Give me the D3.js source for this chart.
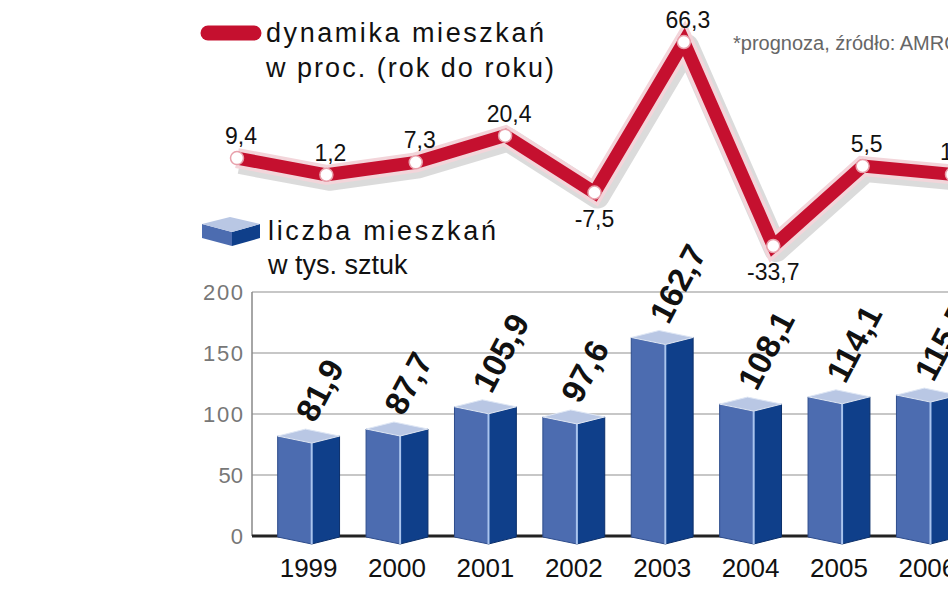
<!DOCTYPE html>
<html><head><meta charset="utf-8">
<script src="https://cdn.jsdelivr.net/npm/d3@7"></script>
<style>body{margin:0;background:#fff}svg{display:block}</style>
</head><body>
<svg id="c" width="948" height="593"></svg>
<script>
const years = ["1999","2000","2001","2002","2003","2004","2005","2006"];
const flats = [81.9, 87.7, 105.9, 97.6, 162.7, 108.1, 114.1, 115.5];
const flatLabels = ["81,9","87,7","105,9","97,6","162,7","108,1","114,1","115,5"];
const dynamics = [9.4, 1.2, 7.3, 20.4, -7.5, 66.3, -33.7, 5.5, 1.4];
const dynLabels = ["9,4","1,2","7,3","20,4","-7,5","66,3","-33,7","5,5","1,4"];
const yTicks = [0, 50, 100, 150, 200];

const svg = d3.select("#c");
const font = "'Liberation Sans','Open Sans',sans-serif";

// bar scales
const x = d3.scaleBand().domain(years).range([260, 976]).paddingInner(0.3).paddingOuter(0.2);
const y = d3.scaleLinear().domain([0, 200]).range([536, 292]);

const grid = svg.append("g");
yTicks.forEach(t => {
  if (t > 0) grid.append("line").attr("x1", 252).attr("x2", 948).attr("y1", y(t)).attr("y2", y(t))
    .attr("stroke", "#b5b5b5").attr("stroke-width", 1.5);
  grid.append("text").attr("x", 243).attr("y", y(t) + 8).attr("text-anchor", "end")
    .attr("font-family", font).attr("font-size", 22).attr("fill", "#777").attr("textLength", t >= 100 ? 40 : null).text(t);
});
grid.append("line").attr("x1", 252).attr("x2", 252).attr("y1", y(200)).attr("y2", y(0)).attr("stroke", "#888").attr("stroke-width", 1.5);
grid.append("line").attr("x1", 252).attr("x2", 948).attr("y1", y(0)).attr("y2", y(0)).attr("stroke", "#222").attr("stroke-width", 3);

const bars = svg.append("g");
years.forEach((yr, i) => {
  const x0 = x(yr), w = x.bandwidth(), xm = x0 + w * 0.55, x1 = x0 + w;
  const top = y(flats[i]), d = 7, bot = y(0) + 8;
  bars.append("path").attr("d", `M${x0},${top}L${xm},${top + d}L${xm},${bot}L${x0},${bot - d}Z`)
    .attr("fill", "#4c6cb0").attr("stroke", "#2d4c8c").attr("stroke-width", 1);
  bars.append("path").attr("d", `M${xm},${top + d}L${x1},${top}L${x1},${bot - d}L${xm},${bot}Z`)
    .attr("fill", "#0f3f8a").attr("stroke", "#0b2f6a").attr("stroke-width", 1);
  bars.append("line").attr("x1", xm).attr("x2", xm).attr("y1", top + d).attr("y2", bot).attr("stroke", "#a9c4ee").attr("stroke-width", 2);
  bars.append("path").attr("d", `M${x0},${top}L${xm},${top + d}L${x1},${top}L${x0 + w * 0.45},${top - d}Z`)
    .attr("fill", "#b9c7e4").attr("stroke", "#dfe7f5").attr("stroke-width", 1);
  bars.append("text").attr("transform", `translate(${x0 + w * 0.6},${top - 12}) rotate(-62)`)
    .attr("font-family", font).attr("font-weight", "bold").attr("font-size", 33).attr("fill", "#111")
    .text(flatLabels[i]);
  bars.append("text").attr("x", x0 + w / 2).attr("y", 577).attr("text-anchor", "middle")
    .attr("font-family", font).attr("font-size", 26).attr("fill", "#111").text(yr);
});

// line
const lx = d3.scaleLinear().domain([0, 8]).range([237, 952]);
const ly = d3.scaleLinear().domain([-33.7, 66.3]).range([246, 42]);
const gen = d3.line().x((d, i) => lx(i)).y(d => ly(d));
const lg = svg.append("g");
lg.append("path").attr("d", gen(dynamics)).attr("fill", "none").attr("stroke", "#999").attr("stroke-width", 24)
  .attr("stroke-linejoin", "round").attr("opacity", 0.35).attr("transform", "translate(3,4)");
lg.append("path").attr("d", gen(dynamics)).attr("fill", "none").attr("stroke", "#f3d5da").attr("stroke-width", 20).attr("stroke-linejoin", "miter");
lg.append("path").attr("d", gen(dynamics)).attr("fill", "none").attr("stroke", "#c5102f").attr("stroke-width", 13).attr("stroke-linejoin", "miter");
dynamics.forEach((v, i) => {
  lg.append("circle").attr("cx", lx(i)).attr("cy", ly(v)).attr("r", 6.5).attr("fill", "#fff").attr("stroke", "#e8a0ab").attr("stroke-width", 1.5);
  const below = v < 0;
  lg.append("text").attr("x", lx(i) + (below ? 0 : 4)).attr("y", below ? ly(v) + 34 : ly(v) - 14)
    .attr("text-anchor", "middle").attr("font-family", font).attr("font-size", 23).attr("fill", "#111").text(dynLabels[i]);
});

// legends
const leg = svg.append("g").attr("font-family", font).attr("font-size", 27).attr("fill", "#111");
leg.append("line").attr("x1", 208).attr("x2", 254).attr("y1", 33).attr("y2", 33).attr("stroke", "#c5102f").attr("stroke-width", 15).attr("stroke-linecap", "round");
leg.append("text").attr("x", 266).attr("y", 42).attr("textLength", 278).text("dynamika mieszkań");
leg.append("text").attr("x", 266).attr("y", 77).attr("textLength", 288).text("w proc. (rok do roku)");
leg.append("path").attr("d", "M202,224L232,232L232,246L202,238Z").attr("fill", "#4c6cb0");
leg.append("path").attr("d", "M232,232L260,224L260,238L232,246Z").attr("fill", "#0f3f8a");
leg.append("path").attr("d", "M202,224L232,232L260,224L230,217Z").attr("fill", "#b9c7e4");
leg.append("text").attr("x", 268).attr("y", 240).attr("textLength", 228).text("liczba mieszkań");
leg.append("text").attr("x", 268).attr("y", 274).text("w tys. sztuk");
svg.append("text").attr("x", 733).attr("y", 50).attr("font-family", font).attr("font-size", 20).attr("fill", "#666").text("*prognoza, źródło: AMRON");
</script>
</body></html>
